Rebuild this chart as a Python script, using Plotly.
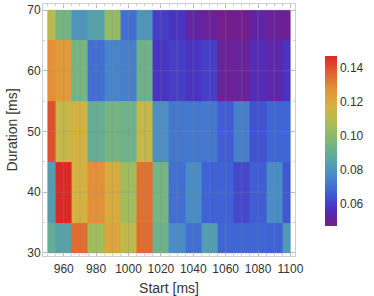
import plotly.graph_objects as go

start_ms = [950, 960, 970, 980, 990, 1000, 1010, 1020, 1030, 1040, 1050, 1060, 1070, 1080, 1090, 1100]
duration_ms = [30, 40, 50, 60, 70]

# rows follow duration_ms (30 -> 70)
vals_30 = [0.090, 0.085, 0.135, 0.105, 0.122, 0.112, 0.135, 0.093, 0.077, 0.070, 0.083, 0.068, 0.068, 0.068, 0.067, 0.082]
vals_40 = [0.083, 0.147, 0.118, 0.128, 0.120, 0.105, 0.134, 0.095, 0.070, 0.077, 0.067, 0.067, 0.062, 0.066, 0.077, 0.065]
vals_50 = [0.140, 0.113, 0.118, 0.090, 0.095, 0.093, 0.113, 0.078, 0.072, 0.072, 0.072, 0.066, 0.074, 0.064, 0.068, 0.068]
vals_60 = [0.128, 0.125, 0.095, 0.070, 0.075, 0.074, 0.093, 0.058, 0.060, 0.058, 0.060, 0.050, 0.050, 0.055, 0.053, 0.058]
vals_70 = [0.111, 0.095, 0.080, 0.085, 0.102, 0.070, 0.080, 0.060, 0.058, 0.052, 0.050, 0.048, 0.048, 0.052, 0.050, 0.049]
z = [vals_30, vals_40, vals_50, vals_60, vals_70]

x_ticks = [960, 980, 1000, 1020, 1040, 1060, 1080, 1100]
y_ticks = [30, 40, 50, 60, 70]
cbar_ticks = [0.06, 0.08, 0.10, 0.12, 0.14]

def edges(c):
    mids = [(a + b) / 2 for a, b in zip(c[:-1], c[1:])]
    return [c[0]] + mids + [c[-1]]

x_edges = edges(start_ms)
y_edges = edges(duration_ms)

colorscale = [
    [0.0, "#771c87"],
    [0.1, "#4a2fbf"],
    [0.2, "#3f62d6"],
    [0.3, "#4a8cc6"],
    [0.4, "#5aa8a2"],
    [0.5, "#7db77a"],
    [0.6, "#aabd54"],
    [0.7, "#d3b442"],
    [0.8, "#e39538"],
    [0.9, "#e2612e"],
    [1.0, "#d92a27"],
]

fig = go.Figure()
fig.add_trace(go.Heatmap(
    x=x_edges, y=y_edges, z=z,
    colorscale=colorscale, zmin=0.047, zmax=0.147,
    colorbar=dict(
        x=1.119, xanchor="left", xref="paper", xpad=0,
        y=0.456, yanchor="middle", ypad=0,
        len=170, lenmode="pixels", thickness=12,
        outlinewidth=0, ticks="", tickvals=cbar_ticks,
        ticktext=[f"{v:.2f}" for v in cbar_ticks],
        tickfont=dict(size=12, color="#333", family="Liberation Sans"),
        ticklabelposition="outside",
    ),
    hoverongaps=False,
))

grid_col = "rgba(140,140,140,0.28)"
shapes = []
for xv in start_ms:
    shapes.append(dict(type="line", xref="x", yref="y", x0=xv, x1=xv,
                       y0=duration_ms[0], y1=duration_ms[-1],
                       line=dict(color=grid_col, width=1), layer="above"))
for yv in duration_ms:
    shapes.append(dict(type="line", xref="x", yref="y", x0=start_ms[0], x1=start_ms[-1],
                       y0=yv, y1=yv, line=dict(color=grid_col, width=1), layer="above"))

axis_common = dict(
    showline=True, linecolor="#cfcfcf", linewidth=1, mirror="ticks",
    ticks="inside", ticklen=4, tickcolor="#bbbbbb", tickwidth=1,
    showgrid=False, zeroline=False, automargin=False,
    tickfont=dict(size=12, color="#333", family="Liberation Sans"),
)

fig.update_layout(
    width=374, height=296,
    margin=dict(l=43, r=79, t=4, b=40, autoexpand=False),
    paper_bgcolor="white", plot_bgcolor="white",
    shapes=shapes,
    xaxis=dict(range=[947.2, 1102.8], tickvals=x_ticks, ticklabelstandoff=2,
               minor=dict(dtick=5, tick0=950, ticks="inside", ticklen=2, tickcolor="#cccccc"),
               title=dict(text="Start [ms]", font=dict(size=14, color="#333", family="Liberation Sans"), standoff=9),
               **axis_common),
    yaxis=dict(range=[29.5, 71.0], tickvals=y_ticks, ticklabelstandoff=-1,
               minor=dict(dtick=5, tick0=30, ticks="inside", ticklen=2, tickcolor="#cccccc"),
               title=dict(text="Duration [ms]", font=dict(size=14, color="#333", family="Liberation Sans"), standoff=6),
               **axis_common),
)

fig.write_html("out.html", config={"displayModeBar": False},
               post_script="document.body.style.margin='0';document.body.style.overflow='hidden';")
